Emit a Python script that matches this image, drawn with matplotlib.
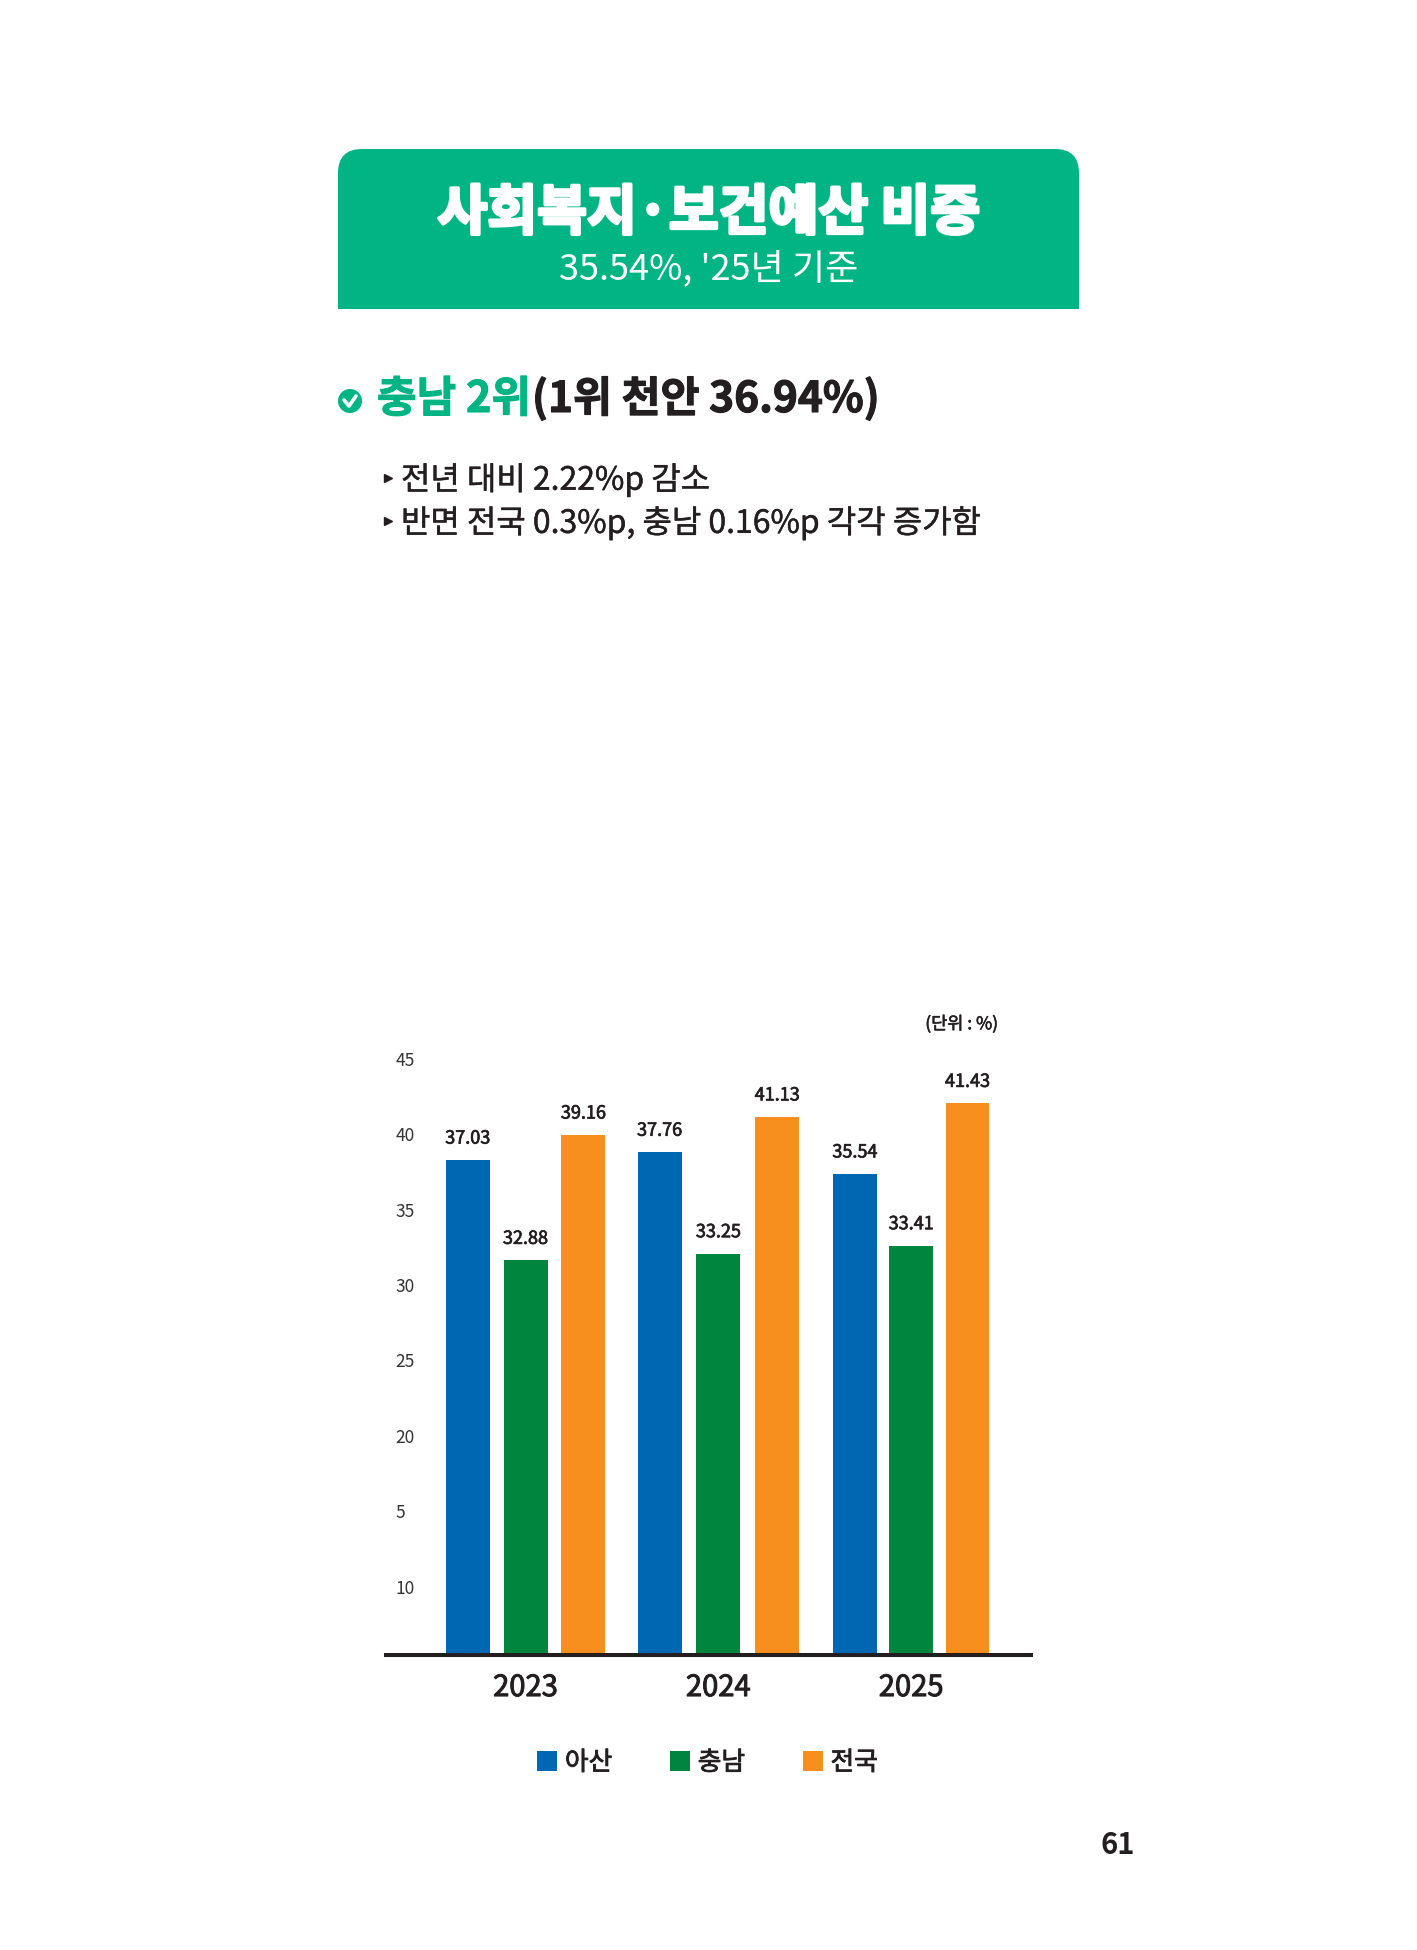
import matplotlib.pyplot as plt
import matplotlib.patheffects as pe
from matplotlib.patches import Circle, PathPatch
from matplotlib.path import Path
from matplotlib.transforms import ScaledTranslation

plt.rcParams['font.family'] = ['Noto Sans CJK KR', 'DejaVu Sans']

W, H = 1417, 1950

# Data
years = ['2023', '2024', '2025']
series_names = ['아산', '충남', '전국']
asan_bars = [38.51, 39.03, 37.59]
chungnam_bars = [31.86, 32.30, 32.83]
national_bars = [40.17, 41.37, 42.27]
asan_labels = ['37.03', '37.76', '35.54']
chungnam_labels = ['32.88', '33.25', '33.41']
national_labels = ['39.16', '41.13', '41.43']
tick_values = [10, 15, 20, 25, 30, 35, 40, 45]
tick_labels = ['10', '5', '20', '25', '30', '35', '40', '45']

BLUE = '#0068B2'
GREEN = '#00853F'
ORANGE = '#F78F1E'
MINT = '#00B484'
INK = '#231F20'


def heavy(color, amount):
    # the installed font stops at bold, so thicken with a thin outline
    return [pe.withStroke(linewidth=amount, foreground=color)]


fig = plt.figure(figsize=(W / 100, H / 100), dpi=100, facecolor='white')

# Overlay in page pixels for the page furniture
page = fig.add_axes([0, 0, 1, 1])
page.set_xlim(0, W)
page.set_ylim(H, 0)
page.axis('off')

# Header box, rounded on top only
l, r, t, b, rad = 338, 1079, 149, 309, 24
verts = [(l, b), (l, t + rad), (l, t), (l + rad, t), (r - rad, t), (r, t), (r, t + rad), (r, b), (l, b)]
codes = [Path.MOVETO, Path.LINETO, Path.CURVE3, Path.CURVE3, Path.LINETO, Path.CURVE3, Path.CURVE3, Path.LINETO, Path.CLOSEPOLY]
page.add_patch(PathPatch(Path(verts, codes), facecolor=MINT, edgecolor='none'))
page.text(709, 214, '사회복지·보건예산 비중', color='white', fontsize=39, fontweight='bold', ha='center', va='center',
          path_effects=heavy('white', 2.4))
page.text(709, 269, "35.54%, '25년 기준", color='white', fontsize=26, ha='center', va='center')

# Headline with check mark
page.add_patch(Circle((350, 401), 12, facecolor=MINT, edgecolor='none'))
page.plot([344, 349, 356], [400, 406, 396], color='white', lw=2.6, solid_capstyle='round')
page.text(377, 399, '충남 2위', color=MINT, fontsize=31, fontweight='bold', ha='left', va='center',
          path_effects=heavy(MINT, 0.8))
page.text(532, 399, '(1위 천안 36.94%)', color=INK, fontsize=30.5, fontweight='bold', ha='left', va='center',
          path_effects=heavy(INK, 0.8))

# Bullets
for y, line in [(480, '전년 대비 2.22%p 감소'), (523, '반면 전국 0.3%p, 충남 0.16%p 각각 증가함')]:
    page.plot([388], [y - 2], marker='>', ms=6, color=INK)
    page.text(401, y, line, color=INK, fontsize=23, ha='left', va='center', path_effects=heavy(INK, 0.3))

page.text(998, 1024, '(단위 : %)', color=INK, fontsize=12.6, ha='right', va='center', path_effects=heavy(INK, 0.4))
page.text(1118, 1845, '61', color=INK, fontsize=21, fontweight='bold', ha='center', va='center')

# Bar chart
ax_l, ax_r, ax_t, ax_b = 386, 1031, 1040, 1655
ax = fig.add_axes([ax_l / W, 1 - ax_b / H, (ax_r - ax_l) / W, (ax_b - ax_t) / H])
ax.patch.set_alpha(0)
step = 192.8
ax.set_xlim((ax_l - 525.6) / step, (ax_r - 525.6) / step)
ax.set_ylim(5.69, 10 + (1590 - ax_t) / 15.08)

centers = [0, 1, 2]
gaps = [0.300, 0.305, 0.292]
width = 0.228
groups = [(asan_bars, asan_labels, BLUE, -1), (chungnam_bars, chungnam_labels, GREEN, 0), (national_bars, national_labels, ORANGE, 1)]
handles = []
for values, labels, color, side in groups:
    xs = [c + side * g for c, g in zip(centers, gaps)]
    bars = ax.bar(xs, values, width=width, color=color)
    texts = ax.bar_label(bars, labels=labels, padding=9, fontsize=13, color=INK)
    for txt in texts:
        txt.set_path_effects(heavy(INK, 0.5))
    handles.append(bars)

ax.set_xticks(centers)
ax.set_xticklabels(years, fontsize=21, color=INK, path_effects=heavy(INK, 0.7))
ax.set_yticks(tick_values)
ax.set_yticklabels(tick_labels, fontsize=12.5, color='#333333', ha='left', va='center_baseline')
ax.tick_params(axis='x', length=0, pad=13)
ax.tick_params(axis='y', length=0, pad=-7)
nudge = ScaledTranslation(0, 2.5 / 72, fig.dpi_scale_trans)
for txt in ax.get_yticklabels():
    txt.set_transform(txt.get_transform() + nudge)
for side in ['top', 'left', 'right']:
    ax.spines[side].set_visible(False)
ax.spines['bottom'].set_linewidth(2.9)
ax.spines['bottom'].set_color(INK)

leg = fig.legend(handles, series_names, loc='center', bbox_to_anchor=(707.5 / W, 1 - 1763 / H), ncol=3, frameon=False,
                 fontsize=18.5, handlelength=0.78, handleheight=0.78, handletextpad=0.3, columnspacing=2.25, borderpad=0,
                 labelcolor=INK)
for txt in leg.get_texts():
    txt.set_path_effects(heavy(INK, 0.6))

fig.savefig('out.png', dpi=100)
